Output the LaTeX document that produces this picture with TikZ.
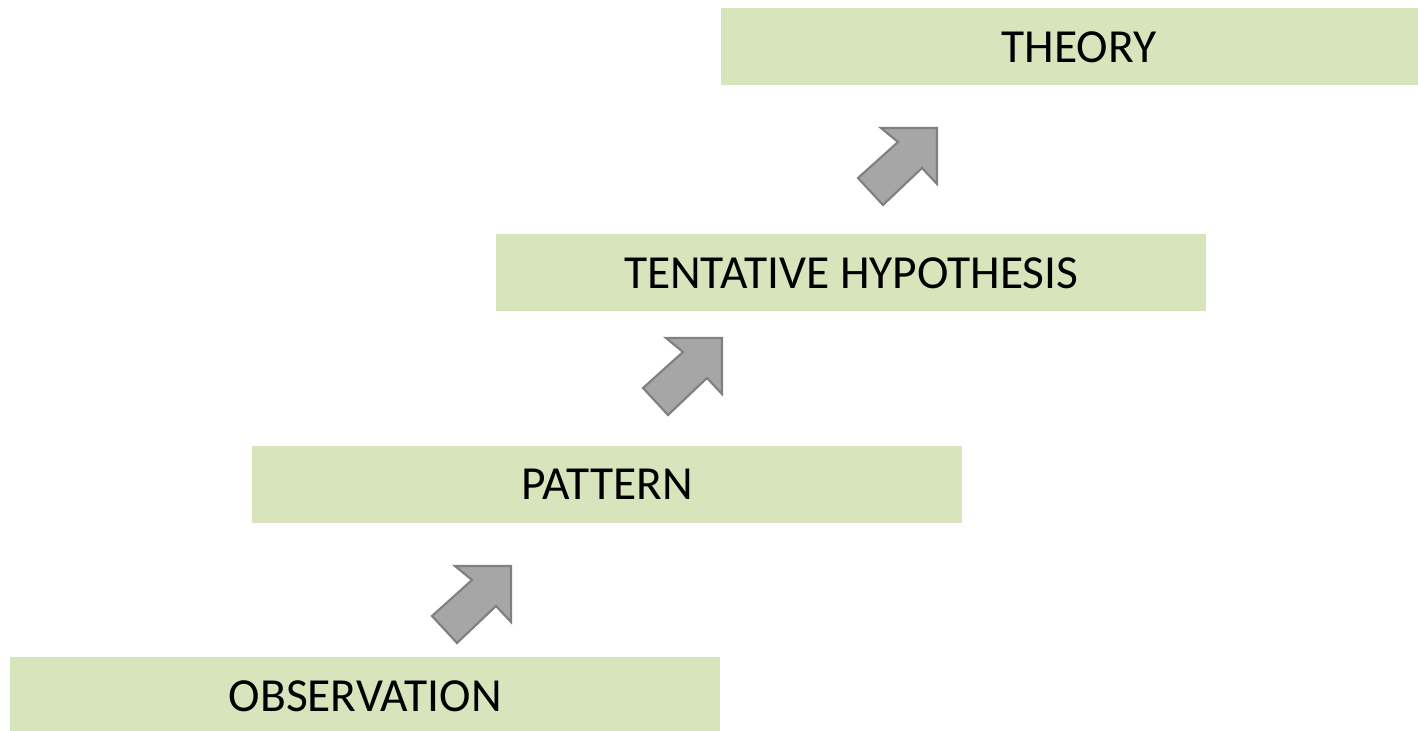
\documentclass[tikz,border=0pt]{standalone}
\usepackage{fontspec}
\setmainfont{Carlito}
\definecolor{boxgreen}{HTML}{D8E4BC}
\definecolor{arrowfill}{HTML}{A6A6A6}
\definecolor{arrowline}{HTML}{808080}
\tikzset{
  stagebox/.style={fill=boxgreen, draw=none, minimum width=710*0.75pt, minimum height=77*0.75pt, inner sep=0pt,
    font=\fontsize{35.6}{40}\selectfont, text=black, anchor=north west},
  uparrow/.style={fill=arrowfill, draw=arrowline, line width=1.6pt, line join=miter},
  pics/steparrow/.style={code={
    \path[uparrow] (0,0) -- (-56,0) -- (-39,14) -- (-79,50) -- (-54,77) -- (-15,40) -- (0,56) -- cycle;
  }}
}
\begin{document}
\begin{tikzpicture}[x=0.75pt, y=-0.75pt]
\clip (0,0) rectangle (1418,731);
\useasboundingbox (0,0) rectangle (1418,731);
\node[stagebox] (obs) at (10,657) {OBSERVATION};
\node[stagebox] (pat) at (252,446) {PATTERN};
\node[stagebox] (hyp) at (496,234) {TENTATIVE HYPOTHESIS};
\node[stagebox, minimum width=697*0.75pt, minimum height=77*0.75pt] (thy) at (721,8) {\hspace*{14pt}THEORY};
\pic at (511,566) {steparrow};
\pic at (722,338) {steparrow};
\pic at (937,128) {steparrow};
\end{tikzpicture}
\end{document}
